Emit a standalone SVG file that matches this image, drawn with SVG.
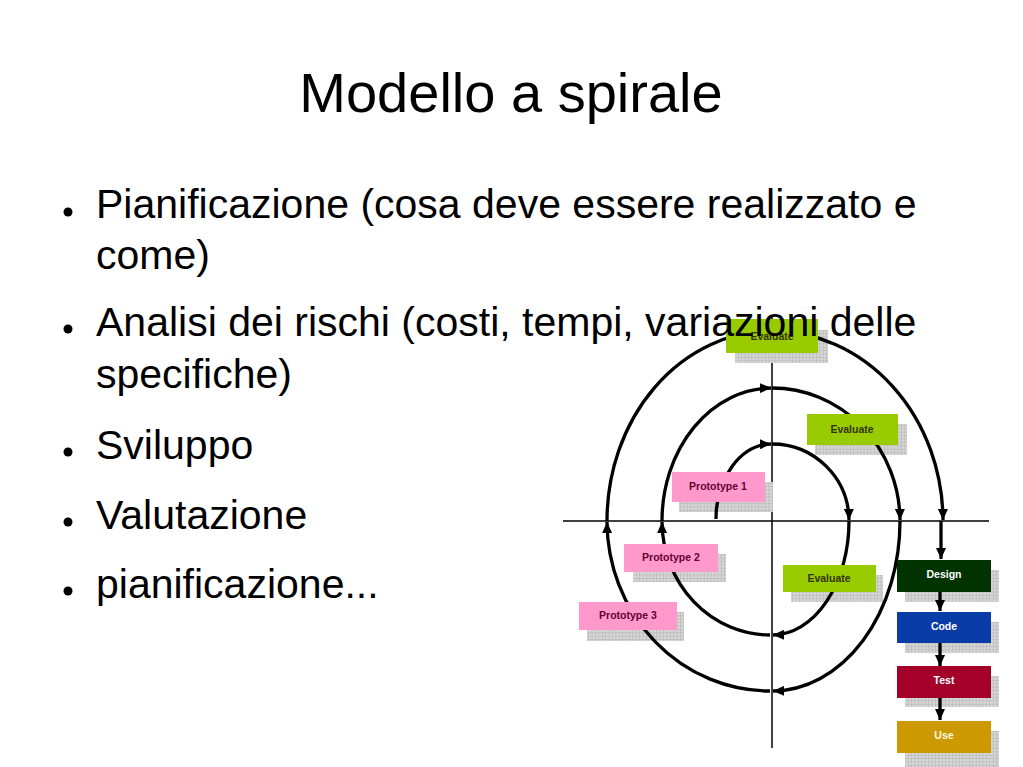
<svg xmlns="http://www.w3.org/2000/svg" width="1023" height="767" viewBox="0 0 1023 767">
<defs>
<style>
.slide{font-family:"Liberation Sans",Arial,sans-serif;fill:#000}
.title{font-size:56px}
.bt{font-size:41px}
.axis{stroke:#000;stroke-width:1.5;fill:none}
.arc{stroke:#000;stroke-width:3.3;fill:none;marker-end:url(#ah)}
.shadow{fill:url(#grid)}
.lbl{font-family:"Liberation Sans",Arial,sans-serif;font-weight:bold;font-size:10.5px;text-anchor:middle}
.eval{fill:#99cc00}
.proto{fill:#ff99cc}
.et{fill:#333300}
.pt{fill:#660033}
.wt{fill:#ffffff}
</style>
<pattern id="grid" width="3.4" height="3.4" patternUnits="userSpaceOnUse">
<rect width="3.4" height="3.4" fill="#d6d6d6"/>
<path d="M0,0H3.4M0,0V3.4" stroke="#9c9c9c" stroke-width="0.6"/>
</pattern>
<marker id="ah" markerUnits="userSpaceOnUse" markerWidth="12" markerHeight="10" refX="11" refY="5" orient="auto">
<path d="M0,0 L11,5 L0,10 z" fill="#000"/>
</marker>
</defs>
<rect width="1023" height="767" fill="#fff"/>

<g id="axes">
<line class="axis" x1="563" y1="521" x2="989" y2="521"/>
<line class="axis" x1="772" y1="315" x2="772" y2="748"/>
</g>

<g id="shadows">
<rect class="shadow" x="735" y="330" width="93" height="33"/>
<rect class="shadow" x="815" y="424" width="92" height="31"/>
<rect class="shadow" x="679" y="482" width="94" height="30"/>
<rect class="shadow" x="633" y="554" width="93" height="28"/>
<rect class="shadow" x="587" y="612" width="97" height="29"/>
<rect class="shadow" x="791" y="575" width="92" height="27"/>
<rect class="shadow" x="905" y="570" width="94" height="32"/>
<rect class="shadow" x="905" y="622" width="94" height="31"/>
<rect class="shadow" x="905" y="676" width="94" height="31"/>
<rect class="shadow" x="905" y="731" width="94" height="36"/>
</g>

<g id="connectors">
<path class="arc" d="M716,519 A56,75 0 0 1 771,444"/>
<path class="arc" d="M772,444 A77,77 0 0 1 849,520"/>
<path class="arc" d="M849,521 A77,114 0 0 1 773,635"/>
<path class="arc" d="M770,635 A108,114 0 0 1 662,522"/>
<path class="arc" d="M662,521 A110,133 0 0 1 771,388"/>
<path class="arc" d="M772,388 A128,133 0 0 1 900,520"/>
<path class="arc" d="M900,521 A128,170 0 0 1 773,691"/>
<path class="arc" d="M770,691 A163,170 0 0 1 607,522"/>
<path class="arc" d="M607,521 A165,190 0 0 1 771,331"/>
<path class="arc" d="M772,331 A171,190 0 0 1 943,520"/>
<path class="arc" d="M941,521 L941,559"/>
<path class="arc" d="M940,592 L940,611"/>
<path class="arc" d="M940,643 L940,666"/>
<path class="arc" d="M940,698 L940,720"/>
</g>

<g id="evaluate-top">
<rect class="eval" x="726" y="319" width="92" height="34"/>
<text class="lbl et" x="772" y="340">Evaluate</text>
</g>
<g id="evaluate-mid">
<rect class="eval" x="807" y="414" width="91" height="31"/>
<text class="lbl et" x="852" y="433">Evaluate</text>
</g>
<g id="prototype-1">
<rect class="proto" x="672" y="472" width="93" height="30"/>
<text class="lbl pt" x="718" y="490">Prototype 1</text>
</g>
<g id="prototype-2">
<rect class="proto" x="624" y="544" width="94" height="28"/>
<text class="lbl pt" x="671" y="561">Prototype 2</text>
</g>
<g id="prototype-3">
<rect class="proto" x="579" y="602" width="98" height="28"/>
<text class="lbl pt" x="628" y="619">Prototype 3</text>
</g>
<g id="evaluate-bottom">
<rect class="eval" x="783" y="565" width="93" height="27"/>
<text class="lbl et" x="829" y="582">Evaluate</text>
</g>
<g id="design">
<rect x="897" y="560" width="94" height="32" fill="#003300"/>
<text class="lbl wt" x="944" y="578">Design</text>
</g>
<g id="code">
<rect x="897" y="612" width="94" height="31" fill="#0a3ca8"/>
<text class="lbl wt" x="944" y="630">Code</text>
</g>
<g id="test">
<rect x="897" y="666" width="94" height="32" fill="#a3002a"/>
<text class="lbl wt" x="944" y="684">Test</text>
</g>
<g id="use">
<rect x="897" y="721" width="94" height="32" fill="#cc9900"/>
<text class="lbl" x="944" y="739" fill="#fff8e0">Use</text>
</g>

<g id="slide-text" class="slide">
<text class="title" x="511" y="112" text-anchor="middle">Modello a spirale</text>
<circle cx="68" cy="212" r="4.5"/>
<text class="bt" x="96" y="218">Pianificazione (cosa deve essere realizzato e</text>
<text class="bt" x="96" y="269">come)</text>
<circle cx="68" cy="329" r="4.5"/>
<text class="bt" x="96" y="336">Analisi dei rischi (costi, tempi, variazioni delle</text>
<text class="bt" x="96" y="388">specifiche)</text>
<circle cx="68" cy="452" r="4.5"/>
<text class="bt" x="96" y="459">Sviluppo</text>
<circle cx="68" cy="522" r="4.5"/>
<text class="bt" x="96" y="529">Valutazione</text>
<circle cx="68" cy="591" r="4.5"/>
<text class="bt" x="96" y="598">pianificazione...</text>
</g>
</svg>
